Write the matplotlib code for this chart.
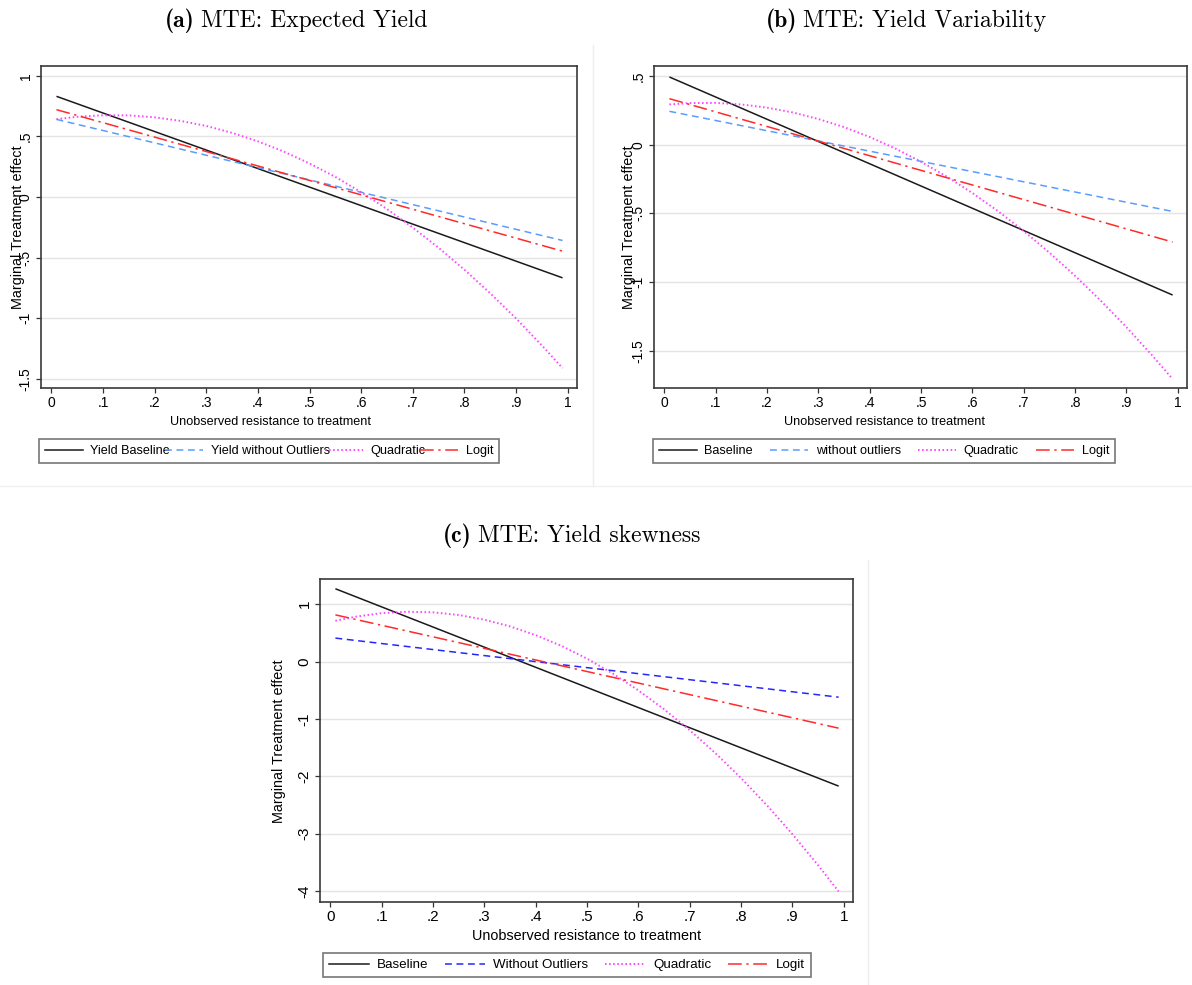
import matplotlib
matplotlib.use("Agg")
import matplotlib.pyplot as plt
from matplotlib.lines import Line2D

W, H = 1192, 985

# straight lines: values at the two ends of the evaluated range
x_ends = [0.01, 0.99]
# quadratic curves: values read on a finer grid
x_grid = [0.01, 0.05, 0.1, 0.15, 0.2, 0.25, 0.3, 0.35, 0.4, 0.45, 0.5,
          0.55, 0.6, 0.65, 0.7, 0.75, 0.8, 0.85, 0.9, 0.95, 0.99]

# (a) expected yield
a_base = [0.83, -0.666]
a_noout = [0.64, -0.358]
a_logit = [0.72, -0.446]
a_quad = [0.642, 0.661, 0.674, 0.673, 0.657, 0.628, 0.586, 0.529, 0.459, 0.375, 0.277,
          0.166, 0.040, -0.099, -0.252, -0.418, -0.599, -0.793, -1.001, -1.223, -1.410]

# (b) yield variability
b_base = [0.493, -1.095]
b_noout = [0.243, -0.486]
b_logit = [0.335, -0.709]
b_quad = [0.293, 0.303, 0.304, 0.293, 0.270, 0.235, 0.187, 0.128, 0.056, -0.028, -0.124,
          -0.232, -0.352, -0.484, -0.629, -0.786, -0.955, -1.136, -1.329, -1.534, -1.707]

# (c) yield skewness
c_base = [1.27, -2.17]
c_noout = [0.41, -0.62]
c_logit = [0.815, -1.16]
c_quad = [0.711, 0.784, 0.845, 0.869, 0.859, 0.813, 0.731, 0.614, 0.462, 0.275, 0.052,
          -0.207, -0.501, -0.830, -1.195, -1.595, -2.030, -2.501, -3.007, -3.549, -4.007]

x_ticks = [0, 0.1, 0.2, 0.3, 0.4, 0.5, 0.6, 0.7, 0.8, 0.9, 1]
a_yticks = [1, 0.5, 0, -0.5, -1, -1.5]
b_yticks = [0.5, 0, -0.5, -1, -1.5]
c_yticks = [1, 0, -1, -2, -3, -4]

a_labels = ["Yield Baseline", "Yield without Outliers", "Quadratic", "Logit"]
b_labels = ["Baseline", "without outliers", "Quadratic", "Logit"]
c_labels = ["Baseline", "Without Outliers", "Quadratic", "Logit"]

BLACK = "#1a1a1a"
LIGHT_BLUE = "#5a9cff"
DARK_BLUE = "#2626ff"
MAGENTA = "#ff44ff"
RED = "#ff2a2a"
SANS = "Liberation Sans"
DOTS = (0.8, 1.3)


def stata_fmt(v):
    s = f"{v:g}"
    return s.replace("0.", ".")


def rect(left, top, right, bottom):
    return [left / W, 1 - bottom / H, (right - left) / W, (bottom - top) / H]


def panel(fig, box, ylim, yticks, base, noout, logit, quad, blue, fs):
    ax = fig.add_axes(rect(*box))
    ax.set_xlim(-0.02, 1.018)
    ax.set_ylim(*ylim)
    for y in yticks:
        ax.axhline(y, color="#e4e4e4", lw=1.0, zorder=0)
    ax.plot(x_ends, base, color=BLACK, lw=1.1, solid_capstyle="butt")
    ax.plot(x_ends, noout, color=blue, lw=1.1, dashes=(4.5, 3))
    ax.plot(x_grid, quad, color=MAGENTA, lw=1.4, dashes=DOTS)
    ax.plot(x_ends, logit, color=RED, lw=1.1, dashes=(9, 3, 1.5, 3))
    ax.set_xticks(x_ticks)
    ax.set_xticklabels([stata_fmt(v) for v in x_ticks], family=SANS, fontsize=fs)
    ax.set_yticks(yticks)
    ax.set_yticklabels([stata_fmt(v) for v in yticks], family=SANS, fontsize=fs,
                       rotation=90, va="center")
    ax.tick_params(direction="out", length=3.6, width=0.9, color="#333333", pad=2.5)
    for sp in ax.spines.values():
        sp.set_color("#3a3a3a")
        sp.set_linewidth(1.2)
    return ax


def legend(fig, ax, box, labels, blue, fs):
    handles = [
        Line2D([], [], color=BLACK, lw=1.1),
        Line2D([], [], color=blue, lw=1.1, dashes=(4.5, 3)),
        Line2D([], [], color=MAGENTA, lw=1.4, dashes=DOTS),
        Line2D([], [], color=RED, lw=1.1, dashes=(9, 3, 1.5, 3)),
    ]
    left, top, right, bottom = box
    leg = ax.legend(handles, labels, ncol=4, mode="expand", loc="center",
                    bbox_to_anchor=(left / W, 1 - bottom / H, (right - left) / W, (bottom - top) / H),
                    bbox_transform=fig.transFigure, prop={"family": SANS, "size": fs},
                    handlelength=3.0, handletextpad=0.6, columnspacing=0.8,
                    fancybox=False, frameon=True, borderpad=0.45, borderaxespad=0)
    frame = leg.get_frame()
    frame.set_edgecolor("#555555")
    frame.set_linewidth(1.2)
    return leg


def caption(fig, left_px, base_px, tag, rest, size=17):
    t1 = fig.text(left_px / W, 1 - base_px / H, tag, family="cmb10",
                  fontsize=size, ha="left", va="baseline")
    bb = t1.get_window_extent(fig.canvas.get_renderer())
    fig.text((bb.x1 + 6) / W, 1 - base_px / H, rest, family="cmr10",
             fontsize=size, ha="left", va="baseline")


fig = plt.figure(figsize=(W / 100, H / 100), dpi=100)

# faint borders of the three graph regions
fig.add_artist(Line2D([593 / W, 593 / W], [1 - 45 / H, 1 - 486 / H], color="#eeeeee", lw=1))
fig.add_artist(Line2D([0, 1], [1 - 486 / H, 1 - 486 / H], color="#f0f0f0", lw=1))
fig.add_artist(Line2D([868 / W, 868 / W], [0, 1 - 560 / H], color="#eeeeee", lw=1))

ax_a = panel(fig, (41, 66, 577, 388), (-1.574, 1.08), a_yticks,
             a_base, a_noout, a_logit, a_quad, LIGHT_BLUE, 10)
ax_b = panel(fig, (654, 66, 1187, 388), (-1.772, 0.573), b_yticks,
             b_base, b_noout, b_logit, b_quad, LIGHT_BLUE, 10)
ax_c = panel(fig, (320, 579, 853, 902), (-4.19, 1.44), c_yticks,
             c_base, c_noout, c_logit, c_quad, DARK_BLUE, 11)

legend(fig, ax_a, (39, 436, 499, 466), a_labels, LIGHT_BLUE, 9.1)
legend(fig, ax_b, (653, 436, 1115, 466), b_labels, LIGHT_BLUE, 9.1)
legend(fig, ax_c, (323, 950, 811, 980), c_labels, DARK_BLUE, 9.6)

# axis titles
xlab = "Unobserved resistance to treatment"
ylab = "Marginal Treatment effect"
fig.text(270 / W, 1 - 422 / H, xlab, family=SANS, fontsize=9.1, ha="center", va="center")
fig.text(884 / W, 1 - 422 / H, xlab, family=SANS, fontsize=9.1, ha="center", va="center")
fig.text(587 / W, 1 - 936 / H, xlab, family=SANS, fontsize=10.4, ha="center", va="center")
fig.text(18 / W, 1 - 227 / H, ylab, family=SANS, fontsize=10.4, rotation=90, ha="center", va="center")
fig.text(629 / W, 1 - 227 / H, ylab, family=SANS, fontsize=10.4, rotation=90, ha="center", va="center")
fig.text(279 / W, 1 - 741 / H, ylab, family=SANS, fontsize=10.4, rotation=90, ha="center", va="center")

# panel captions
caption(fig, 165, 27, "(a)", "MTE: Expected Yield")
caption(fig, 766, 27, "(b)", "MTE: Yield Variability")
caption(fig, 443, 542, "(c)", "MTE: Yield skewness")

fig.savefig("out.png", dpi=100)
